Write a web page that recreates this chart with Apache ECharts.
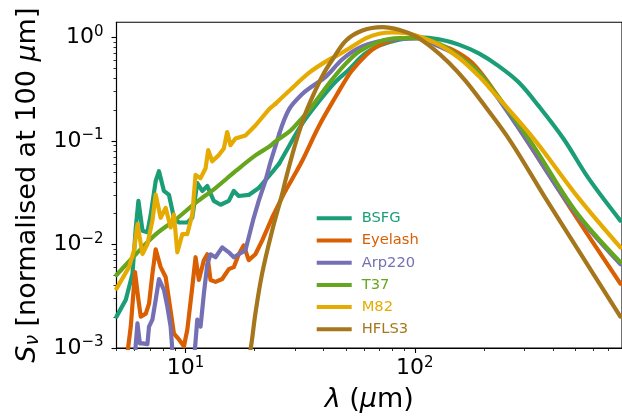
<!DOCTYPE html>
<html><head><meta charset="utf-8">
<script src="https://cdn.jsdelivr.net/npm/echarts@6/dist/echarts.min.js"></script>
<style>html,body{margin:0;padding:0;background:#fff}#c{width:622px;height:420px}</style>
</head><body><div id="c"></div>
<script>
// ---- data (wavelength in micron, normalised flux) ----
const seriesNames = ['BSFG', 'Eyelash', 'Arp220', 'T37', 'M82', 'HFLS3'];
const bsfg = [[5.0,0.00201],[5.49,0.00292],[5.87,0.00522],[6.07,0.0146],[6.23,0.0264],[6.49,0.0136],[6.82,0.0131],[7.05,0.0194],[7.41,0.041],[7.66,0.051],[8.05,0.0329],[8.47,0.0301],[8.9,0.0181],[9.36,0.0163],[10.18,0.0163],[10.7,0.0181],[11.25,0.0392],[11.83,0.0329],[12.44,0.0367],[13.28,0.0264],[14.21,0.0242],[15.44,0.0264],[16.23,0.0329],[17.06,0.0294],[18.86,0.0301],[20.85,0.0351],[23.67,0.0488],[25.64,0.0608],[28.34,0.09],[32.28,0.147],[38.28,0.243],[45.38,0.378],[51.68,0.491],[60.05,0.684],[69.8,0.833],[85.27,0.951],[104.2,1.0],[127.3,0.96],[155.5,0.852],[190,0.70],[232.1,0.528],[283.5,0.369],[346.3,0.218],[444.7,0.105],[571.3,0.0437],[787,0.017]];
const eyelash = [[5.0,0.0007],[5.6,0.00095],[5.77,0.00161],[6.02,0.00541],[6.23,0.00292],[6.38,0.00201],[6.71,0.00215],[6.93,0.00268],[7.17,0.0052],[7.41,0.00898],[7.79,0.00604],[8.19,0.00485],[8.47,0.00292],[8.9,0.00138],[9.36,0.00121],[9.84,0.00104],[10.18,0.0015],[10.7,0.00389],[11.06,0.00753],[11.43,0.00454],[12.02,0.00705],[12.44,0.00804],[12.85,0.00454],[13.51,0.00435],[14.45,0.00464],[15.44,0.00578],[16.23,0.00604],[17.06,0.00804],[17.94,0.0098],[18.86,0.00705],[20.17,0.00804],[21.57,0.0109],[23.84,0.0181],[27.23,0.0329],[29.3,0.0437],[32.19,0.0636],[38.28,0.141],[45.38,0.273],[51.68,0.44],[55.27,0.53],[65.26,0.763],[77.16,0.916],[91.19,0.987],[104.2,0.99],[127.3,0.852],[150.4,0.735],[177.1,0.573],[210,0.361],[304,0.1054],[481.8,0.0216],[787,0.00418]];
const arp220 = [[6.0,0.0008],[6.17,0.00173],[6.32,0.00111],[6.49,0.00111],[6.82,0.00109],[6.93,0.00161],[7.17,0.00188],[7.41,0.00292],[7.66,0.00464],[8.05,0.00364],[8.33,0.00251],[8.61,0.00161],[8.76,0.00095],[9.6,0.0006],[10.5,0.0006],[10.98,0.00095],[11.25,0.00188],[11.63,0.00161],[12.02,0.00334],[12.44,0.00645],[12.85,0.00804],[13.51,0.00753],[14.45,0.00938],[15.44,0.0084],[16.23,0.00753],[17.06,0.00804],[18.25,0.00878],[19.18,0.0136],[19.83,0.0181],[20.85,0.0264],[22.29,0.041],[23.44,0.0622],[25.64,0.1177],[28.34,0.204],[32.28,0.284],[35.69,0.338],[41.06,0.421],[48.18,0.612],[57.12,0.792],[69.8,0.916],[85.27,0.965],[104.2,0.98],[127.3,0.82],[155.5,0.658],[190,0.46],[210,0.346],[304,0.1054],[481.8,0.0226],[787,0.00645]];
const t37 = [[5.0,0.00507],[6.07,0.00804],[7.41,0.0125],[9.05,0.0174],[11.06,0.0252],[13.51,0.0351],[16.51,0.051],[20.17,0.0725],[23.2,0.0884],[24.64,0.0987],[28.34,0.123],[30.1,0.1404],[34.63,0.1995],[36.78,0.238],[42.29,0.361],[49.16,0.537],[57.12,0.73],[69.8,0.91],[85.27,0.983],[104.2,0.983],[127.3,0.871],[155.5,0.658],[190,0.46],[313.3,0.1054],[500,0.0212],[787,0.00675]];
const m82 = [[5.0,0.00375],[5.67,0.00604],[5.96,0.00878],[6.17,0.0157],[6.49,0.0081],[6.82,0.0101],[7.17,0.017],[7.41,0.0303],[7.79,0.0181],[8.19,0.0226],[8.61,0.0146],[8.9,0.0195],[9.21,0.0084],[9.68,0.0126],[10.18,0.0126],[10.7,0.0195],[11.06,0.047],[11.63,0.0437],[12.23,0.0545],[12.56,0.0815],[13.07,0.0636],[13.97,0.073],[14.69,0.0846],[15.19,0.122],[15.7,0.091],[16.51,0.1054],[18.25,0.113],[20.17,0.141],[23.2,0.204],[24.64,0.228],[28.34,0.305],[34.63,0.457],[42.29,0.612],[45.25,0.658],[53.25,0.815],[61.28,0.983],[69.8,1.085],[79.5,1.116],[91.46,1.102],[104.2,1.022],[127.3,0.852],[155.5,0.636],[190,0.424],[210,0.331],[329.4,0.1054],[516.8,0.0282],[787,0.00938]];
const hfls3 = [[18.0,0.0005],[19.18,0.00095],[20.17,0.00216],[21.57,0.00522],[23.84,0.0135],[26.34,0.0303],[27.42,0.0437],[30.31,0.098],[33.5,0.19],[37.04,0.317],[40.24,0.457],[43.74,0.612],[50,0.93],[59.04,1.166],[72.15,1.257],[85.27,1.184],[100.8,1.022],[119,0.792],[140.7,0.569],[166.3,0.38],[196.4,0.236],[261.6,0.0987],[370.3,0.0282],[516.8,0.00878],[787,0.00201]];
const seriesData = [bsfg, eyelash, arp220, t37, m82, hfls3];
// wavelength above which a curve is a smooth far-IR continuum (null = smooth everywhere)
const smoothFrom = [25, 25, 25, null, 24, null];

// ---- axes ----
const xRange = [5, 800];
const yRange = [0.001, 1.4];
const xMajorTicks = [10, 100];
const xMinorTicks = [5, 6, 7, 8, 9, 20, 30, 40, 50, 60, 70, 80, 90, 200, 300, 400, 500, 600, 700, 800];
const yMajorTicks = [0.001, 0.01, 0.1, 1];
const yMinorTicks = [0.002,0.003,0.004,0.005,0.006,0.007,0.008,0.009,0.02,0.03,0.04,0.05,0.06,0.07,0.08,0.09,0.2,0.3,0.4,0.5,0.6,0.7,0.8,0.9];

// ---- style ----
const colors = ['#1b9e77', '#d95f02', '#7570b3', '#66a61e', '#e6ab02', '#a6761d'];
const FONT = 'DejaVu Sans';

function expLabel(v) {
  const e = Math.round(Math.log10(v));
  return '{b|10}{s|' + (e < 0 ? '\u2212' + (-e) : String(e)) + '}';
}
const tickRich = {
  b: { fontSize: 22, fontFamily: FONT, color: '#000', lineHeight: 26 },
  s: { fontSize: 15, fontFamily: FONT, color: '#000', lineHeight: 16, verticalAlign: 'top' }
};

function lineSeries(name, data, i, smooth) {
  return {
    name: name, type: 'line', data: data, xAxisIndex: 0, yAxisIndex: 0,
    showSymbol: false, symbol: 'none', smooth: smooth, clip: true,
    lineStyle: { width: 4.2, color: colors[i], join: 'round', cap: 'round' },
    itemStyle: { color: colors[i] },
    z: 2 + i
  };
}
const series = [];
seriesNames.forEach((n, i) => {
  const d = seriesData[i];
  const s = smoothFrom[i];
  if (s === null) { series.push(lineSeries(n, d, i, 0.35)); return; }
  const k = d.findIndex(p => p[0] >= s);
  series.push(lineSeries(n, d.slice(0, k + 1), i, false));
  series.push(lineSeries(n, d.slice(k), i, 0.35));
});

const chart = echarts.init(document.getElementById('c'), null, { renderer: 'canvas' });
chart.setOption({
  animation: false,
  backgroundColor: '#fff',
  color: colors,
  grid: { left: 116.5, top: 22.3, width: 507, height: 329.4, show: true, borderColor: '#000', borderWidth: 1.1, backgroundColor: 'transparent' },
  legend: {
    orient: 'vertical', left: 316.7, top: 210.3, padding: 0,
    itemWidth: 35, itemHeight: 4, itemGap: 6.2, icon: 'rect',
    textStyle: { fontFamily: FONT, fontSize: 14.7, lineHeight: 16, padding: [0, 0, 0, 5] },
    data: seriesNames.map((n, i) => ({ name: n, textStyle: { color: colors[i] } }))
  },
  xAxis: [
    {
      type: 'log', logBase: 10, min: xRange[0], max: xRange[1], position: 'bottom',
      name: '{i|\u03bb} ({i|\u03bc}m)', nameLocation: 'middle', nameGap: 37,
      nameTextStyle: { fontFamily: FONT, fontSize: 27, color: '#000', lineHeight: 30,
        rich: { i: { fontFamily: FONT, fontSize: 27, fontStyle: 'italic', color: '#000', lineHeight: 30 } } },
      axisLine: { show: true, lineStyle: { color: '#000', width: 1.1 } },
      axisTick: { show: true, length: 5, lineStyle: { color: '#000', width: 1.1 }, customValues: xMajorTicks },
      axisLabel: { show: true, margin: 7.5, customValues: xMajorTicks, formatter: expLabel, rich: tickRich },
      splitLine: { show: false }
    },
    {
      type: 'log', logBase: 10, min: xRange[0], max: xRange[1], position: 'bottom',
      axisLine: { show: false },
      axisTick: { show: true, length: 3, lineStyle: { color: '#000', width: 0.8 }, customValues: xMinorTicks },
      axisLabel: { show: false },
      splitLine: { show: false }
    }
  ],
  yAxis: [
    {
      type: 'log', logBase: 10, min: yRange[0], max: yRange[1], position: 'left',
      name: '{i|S}{sub|\u03bd} [normalised at 100 {i|\u03bc}m]', nameLocation: 'middle', nameGap: 68, nameRotate: 90,
      nameTextStyle: { fontFamily: FONT, fontSize: 27, color: '#000', lineHeight: 30,
        rich: {
          i: { fontFamily: FONT, fontSize: 27, fontStyle: 'italic', color: '#000', lineHeight: 30 },
          sub: { fontFamily: FONT, fontSize: 19, fontStyle: 'italic', color: '#000', lineHeight: 30, verticalAlign: 'bottom' }
        } },
      axisLine: { show: true, lineStyle: { color: '#000', width: 1.1 } },
      axisTick: { show: true, length: 5, lineStyle: { color: '#000', width: 1.1 }, customValues: yMajorTicks },
      axisLabel: { show: true, margin: 13, customValues: yMajorTicks, formatter: expLabel, rich: tickRich },
      splitLine: { show: false }
    },
    {
      type: 'log', logBase: 10, min: yRange[0], max: yRange[1], position: 'left',
      axisLine: { show: false },
      axisTick: { show: true, length: 3, lineStyle: { color: '#000', width: 0.8 }, customValues: yMinorTicks },
      axisLabel: { show: false },
      splitLine: { show: false }
    }
  ],
  series: series
});
</script></body></html>
